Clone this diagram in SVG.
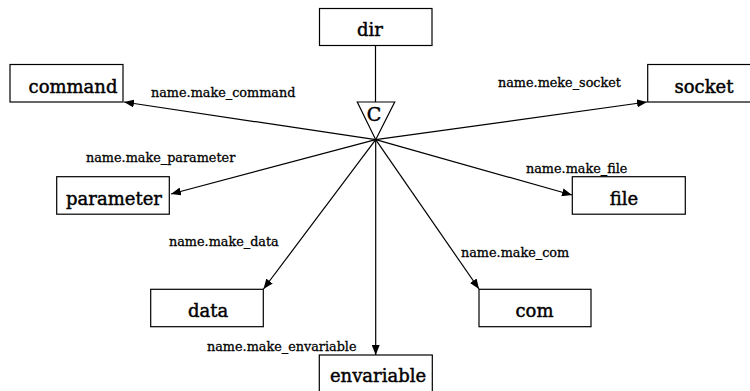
<svg xmlns="http://www.w3.org/2000/svg" width="750" height="391" viewBox="0 0 750 391">
<style>
.box{fill:#fff;stroke:#000;stroke-width:1.2}
.nt{font-family:"DejaVu Serif","Liberation Serif",serif;font-size:18px;text-anchor:middle;fill:#000;stroke:#000;stroke-width:0.45}
.lb{font-family:"DejaVu Serif","Liberation Serif",serif;font-size:12.8px;fill:#000;stroke:#000;stroke-width:0.3}
.ln{stroke:#000;stroke-width:1.2;fill:none}
</style>
<defs>
<marker id="ah" viewBox="0 0 10 8" refX="10" refY="4" markerWidth="10" markerHeight="8" markerUnits="userSpaceOnUse" orient="auto">
<path d="M0,0 L10,4 L0,8 z" fill="#000"/>
</marker>
</defs>
<rect width="750" height="391" fill="#fff"/>
<g id="connectors">
<line class="ln" x1="375.5" y1="45.5" x2="375.5" y2="102"/>
<line class="ln" x1="375.7" y1="139.7" x2="124" y2="102" marker-end="url(#ah)"/>
<line class="ln" x1="375.7" y1="139.7" x2="647" y2="102" marker-end="url(#ah)"/>
<line class="ln" x1="375.7" y1="139.7" x2="171" y2="194" marker-end="url(#ah)"/>
<line class="ln" x1="375.7" y1="139.7" x2="572" y2="195" marker-end="url(#ah)"/>
<line class="ln" x1="375.7" y1="139.7" x2="263.5" y2="289" marker-end="url(#ah)"/>
<line class="ln" x1="375.7" y1="139.7" x2="479" y2="289" marker-end="url(#ah)"/>
<line class="ln" x1="375.7" y1="139.7" x2="375.7" y2="355" marker-end="url(#ah)"/>
<text class="lb" x="151" y="97">name.make_command</text>
<text class="lb" x="498" y="87">name.meke_socket</text>
<text class="lb" x="86" y="162">name.make_parameter</text>
<text class="lb" x="526" y="173">name.make_file</text>
<text class="lb" x="169" y="246">name.make_data</text>
<text class="lb" x="461" y="257">name.make_com</text>
<text class="lb" x="207" y="351">name.make_envariable</text>
</g>
<g id="node-dir">
<rect class="box" x="319.5" y="8.5" width="112.5" height="37"/>
<text class="nt" x="370" y="36">dir</text>
</g>
<g id="node-c">
<polygon class="box" points="357.3,102 394.7,102 375.7,139.7"/>
<text class="nt" x="374" y="121" style="font-size:19px">C</text>
</g>
<g id="node-command">
<rect class="box" x="10" y="64.5" width="113" height="37.5"/>
<text class="nt" x="73" y="93">command</text>
</g>
<g id="node-socket">
<rect class="box" x="647.7" y="64.5" width="113" height="37.5"/>
<text class="nt" x="704" y="93">socket</text>
</g>
<g id="node-parameter">
<rect class="box" x="56.7" y="176.7" width="112.6" height="37.5"/>
<text class="nt" x="114" y="205">parameter</text>
</g>
<g id="node-file">
<rect class="box" x="572.3" y="176.7" width="113" height="37.5"/>
<text class="nt" x="624" y="204.5">file</text>
</g>
<g id="node-data">
<rect class="box" x="150.7" y="289.3" width="112.6" height="37.4"/>
<text class="nt" x="208" y="317">data</text>
</g>
<g id="node-com">
<rect class="box" x="479" y="289.3" width="112" height="37.4"/>
<text class="nt" x="534.5" y="317">com</text>
</g>
<g id="node-envariable">
<rect class="box" x="319.3" y="355" width="113" height="37.5"/>
<text class="nt" x="378" y="382">envariable</text>
</g>
</svg>
